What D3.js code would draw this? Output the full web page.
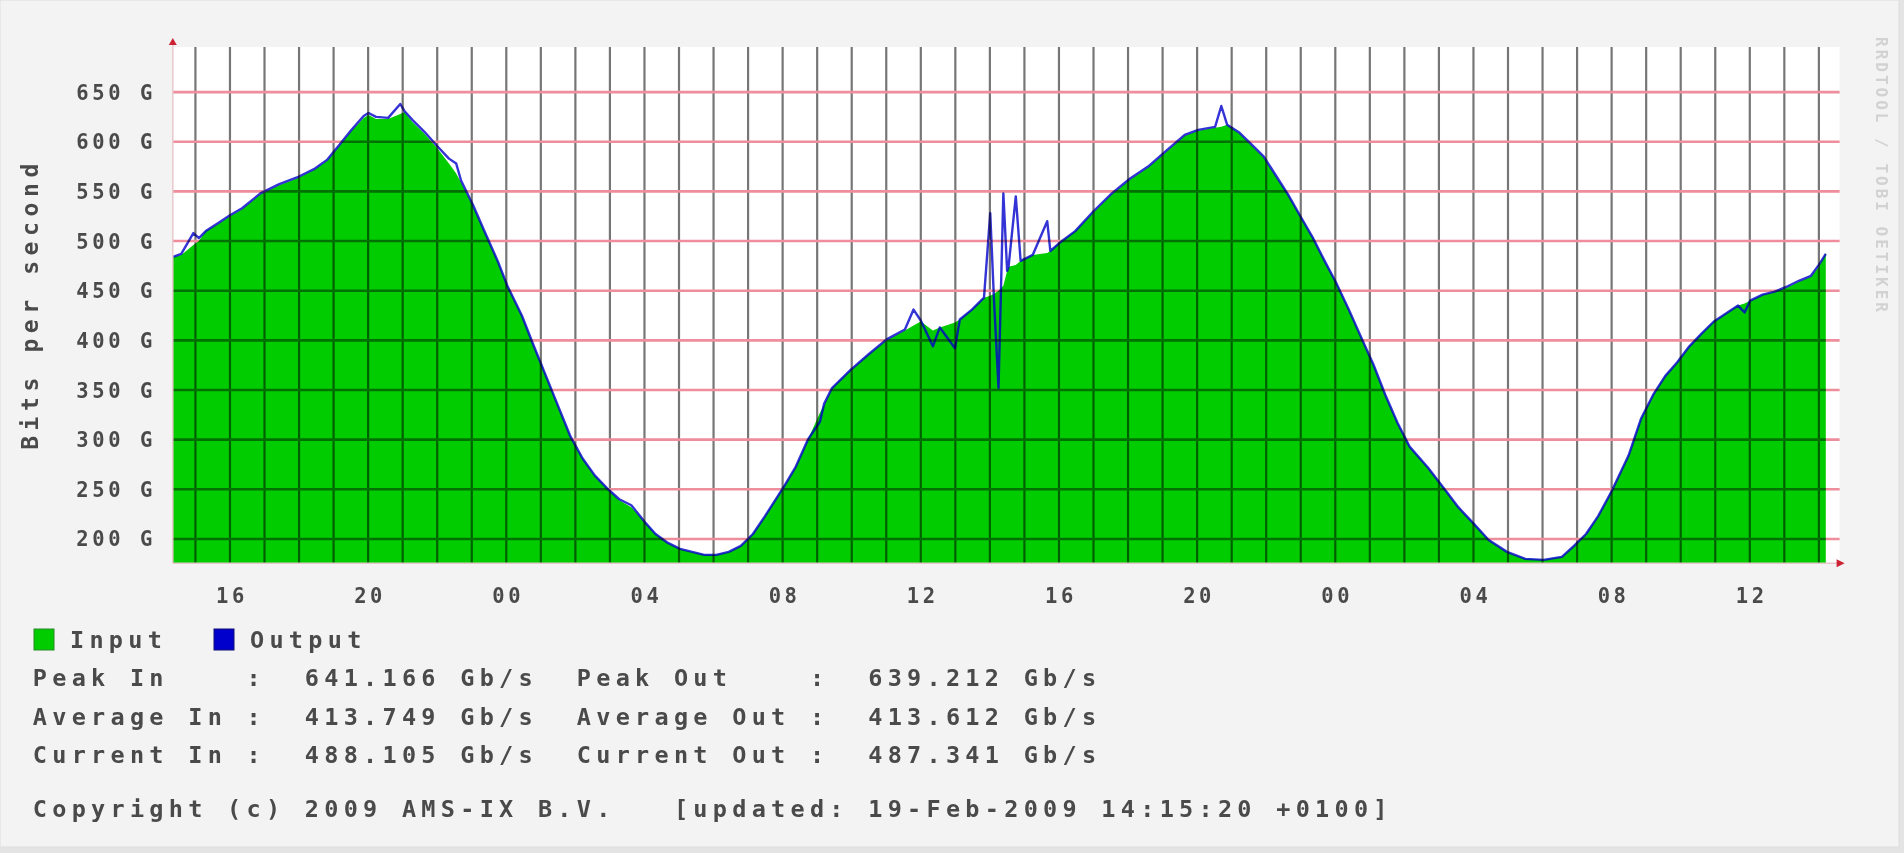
<!DOCTYPE html>
<html>
<head>
<meta charset="utf-8">
<script src="https://cdn.jsdelivr.net/npm/d3@7"></script>
<style>
html,body{margin:0;padding:0;background:#e4e4e4;}
svg{display:block;}
text{font-family:"DejaVu Sans Mono",monospace;fill:#4a4a4a;white-space:pre;font-weight:bold;}
</style>
</head>
<body>
<svg id="chart" width="1904" height="853"></svg>
<script>
// ---------- data ----------
// hours since 17-Feb-2009 00:00
const hours = [14.35,14.59,14.94,15.10,15.30,15.65,16.00,16.35,16.88,17.41,17.94,18.46,18.82,19.17,19.52,19.87,20.01,20.23,20.58,20.93,21.05,21.28,21.63,21.99,22.34,22.55,22.69,23.04,23.39,23.75,24.03,24.45,24.80,25.15,25.51,25.86,26.21,26.56,26.92,27.27,27.62,28.01,28.32,28.68,29.03,29.38,29.73,30.08,30.44,30.79,31.14,31.49,32.06,32.37,32.73,33.08,33.20,33.43,33.96,34.49,35.01,35.54,35.79,36.00,36.35,36.55,36.99,37.13,37.48,37.83,38.01,38.12,38.25,38.39,38.50,38.54,38.75,38.89,39.24,39.66,39.75,40.01,40.47,41.00,41.53,42.06,42.58,43.11,43.64,44.03,44.52,44.70,44.87,45.23,45.58,45.93,46.28,46.63,46.99,47.34,47.69,48.01,48.39,48.75,49.10,49.45,49.80,50.15,50.68,51.21,51.56,52.02,52.44,52.97,53.50,54.03,54.56,54.91,55.26,55.61,56.00,56.49,56.85,57.20,57.55,57.90,58.25,58.61,58.96,59.31,59.66,59.85,60.01,60.37,60.72,61.07,61.42,61.77,62.00,62.20];
const inputG = [484,486,496,500,510,517,525,532,547,556,563,572,581,596,611,624,627,623,623,628,630,620,608,594,578,568,559,535,508,480,455,425,394,364,333,303,281,264,251,239,232,217,205,196,190,187,184,184,187,193,205,223,254,272,300,327,335,352,370,386,400,410,415,419,410,413,418,421,431,443,445,447,450,455,470,474,476,480,486,488,490,498,510,529,547,562,574,590,606,611,614,615,617,608,596,584,565,547,525,504,480,459,431,403,376,345,317,293,272,248,232,215,199,187,180,179,182,193,205,223,248,284,321,345,364,378,394,407,419,427,435,437,440,446,449,453,459,464,474,488];
const outputG = [484,487,508,503,510,518,526,533,548,557,564,573,582,597,612,626,629,625,624,638,631,622,610,596,583,578,561,536,508,480,455,425,394,364,333,303,281,264,251,240,234,217,205,196,190,187,184,184,187,193,205,223,254,272,300,318,336,352,370,386,401,411,431,420,394,413,392,421,431,443,528,440,352,548,470,474,545,480,486,520,490,498,510,530,548,563,575,591,607,612,615,636,617,609,597,585,566,547,525,504,480,459,431,403,376,345,317,293,272,248,232,215,199,187,180,179,182,193,205,223,248,284,321,345,364,378,394,407,419,427,435,428,440,446,449,454,460,465,476,487];

const yTicks = [200,250,300,350,400,450,500,550,600,650];
const yAxisTitle = "Bits per second";
const seriesNames = ["Input","Output"];
const seriesColors = ["#00cc00","#0000cc"];
const statLabels = ["Peak","Average","Current"];
const statIn = ["641.166","413.749","488.105"];
const statOut = ["639.212","413.612","487.341"];
const unit = "Gb/s";
const copyright = "Copyright (c) 2009 AMS-IX B.V.";
const updated = "[updated: 19-Feb-2009 14:15:20 +0100]";
const sideText = "RRDTOOL / TOBI OETIKER";

// ---------- layout ----------
const base = new Date(2009,1,17,0,0,0);
const toDate = h => new Date(base.getTime() + h*3600e3);
const data = hours.map((h,i)=>({t:toDate(h), vin:inputG[i], vout:outputG[i]}));

const svg = d3.select("#chart");
svg.append("rect").attr("x",0).attr("y",0).attr("width",1899).attr("height",847)
   .attr("fill","#f3f3f3").attr("stroke","#dedede").attr("stroke-width",1);

const plot = {left:172.8, right:1839.6, top:47, bottom:563.3};
const x = d3.scaleTime().domain([toDate(14.345), toDate(62.6)]).range([plot.left, plot.right]);
const y = d3.scaleLinear().domain([175.5, 695.4]).range([plot.bottom, plot.top]);

svg.append("rect").attr("x",plot.left).attr("y",plot.top)
   .attr("width",plot.right-plot.left).attr("height",plot.bottom-plot.top).attr("fill","#ffffff");

// input area
const area = d3.area().x(d=>x(d.t)).y0(y(y.domain()[0])).y1(d=>y(d.vin));
svg.append("path").datum(data).attr("d",area).attr("fill",seriesColors[0]);

// output line
const line = d3.line().x(d=>x(d.t)).y(d=>y(d.vout));
svg.append("path").datum(data).attr("d",line).attr("fill","none")
   .attr("stroke",seriesColors[1]).attr("stroke-width",2.4).attr("stroke-linejoin","round").attr("opacity",0.8);

// grid (multiply so it darkens green)
const grid = svg.append("g").style("mix-blend-mode","multiply");
const hourTicks = x.ticks(d3.timeHour.every(1));
grid.selectAll("line.v").data(hourTicks).enter().append("line")
   .attr("x1",d=>x(d)).attr("x2",d=>x(d)).attr("y1",plot.top).attr("y2",plot.bottom)
   .attr("stroke","#767676").attr("stroke-width",2.2);
grid.selectAll("line.h").data(yTicks).enter().append("line")
   .attr("x1",plot.left).attr("x2",plot.right).attr("y1",d=>y(d)).attr("y2",d=>y(d))
   .attr("stroke","#ee8d9b").attr("stroke-width",2.6);

// axes lines + arrows
svg.append("line").attr("x1",plot.left).attr("x2",plot.left).attr("y1",plot.top-4).attr("y2",plot.bottom)
   .attr("stroke","#e7c9cc").attr("stroke-width",1.5);
svg.append("line").attr("x1",plot.left).attr("x2",plot.right).attr("y1",plot.bottom).attr("y2",plot.bottom)
   .attr("stroke","#e7c9cc").attr("stroke-width",1.5);
svg.append("path").attr("d",`M${plot.left-4},${plot.top-2} L${plot.left},${plot.top-9} L${plot.left+4},${plot.top-2} Z`)
   .attr("fill","#cc2233");
svg.append("path").attr("d",`M${plot.right-3},${plot.bottom-4} L${plot.right+5},${plot.bottom} L${plot.right-3},${plot.bottom+4} Z`)
   .attr("fill","#cc2233");

// y tick labels
svg.selectAll("text.yt").data(yTicks).enter().append("text")
   .attr("x",156).attr("y",d=>y(d)+7.5).attr("text-anchor","end")
   .style("font-size","20.5px").style("letter-spacing","3.6px")
   .text(d=>d+" G");

// y axis title
svg.append("text").attr("transform","translate(38,304) rotate(-90)")
   .attr("text-anchor","middle").style("font-size","23px").style("letter-spacing","5.6px")
   .text(yAxisTitle);

// x tick labels
const labelTicks = x.ticks(d3.timeHour.every(4));
svg.selectAll("text.xt").data(labelTicks).enter().append("text")
   .attr("x",d=>x(d)+2).attr("y",603).attr("text-anchor","middle")
   .style("font-size","20.5px").style("letter-spacing","3.6px")
   .text(d3.timeFormat("%H"));

// legend
const cw = 19.43, tx0 = 32.8;
const ls = (cw-23.5*0.602).toFixed(2)+"px";
const fmtLine = (txt, yy) => svg.append("text").attr("x",tx0).attr("y",yy)
   .style("font-size","23.5px").style("letter-spacing",ls).text(txt);
const legendX = [34, 214];
seriesNames.forEach((n,i)=>{
  svg.append("rect").attr("x",legendX[i]).attr("y",629).attr("width",20).attr("height",21)
     .attr("fill",seriesColors[i]).attr("stroke", i===0?"#2a8a2a":"#111177").attr("stroke-width",1);
  svg.append("text").attr("x",legendX[i]+36).attr("y",647.5)
     .style("font-size","23.5px").style("letter-spacing",ls).text(n);
});

const pad = (s,n) => s + " ".repeat(Math.max(0,n-s.length));
const statY = [686, 725, 763];
statLabels.forEach((lab,i)=>{
  const left = pad(lab+" In",10) + " :  " + statIn[i] + " " + unit + "  ";
  const right = pad(lab+" Out",11) + " :  " + statOut[i] + " " + unit;
  fmtLine(left + right, statY[i]);
});
fmtLine(copyright + "   " + updated, 817);

// side text
svg.append("text").attr("transform","translate(1876,176) rotate(90)")
   .attr("text-anchor","middle").style("font-size","16px").style("letter-spacing","3px")
   .style("fill","#d2d2d2").text(sideText);
</script>
</body>
</html>
